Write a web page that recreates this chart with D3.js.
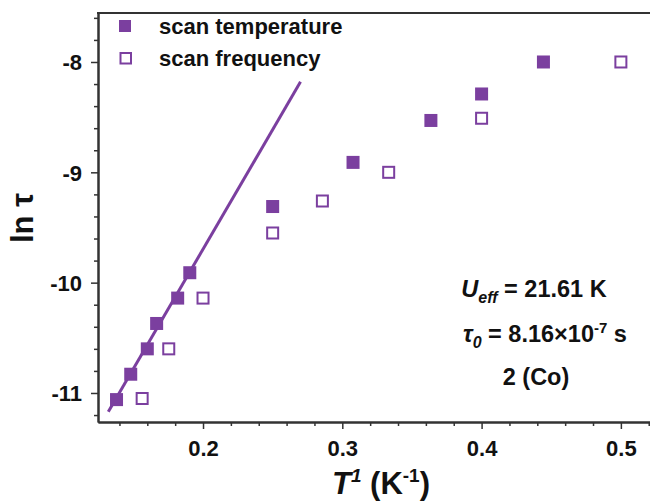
<!DOCTYPE html>
<html>
<head>
<meta charset="utf-8">
<script src="https://cdn.jsdelivr.net/npm/d3@7"></script>
<style>
  body { margin: 0; background: #fff; }
  text { font-family: "Liberation Sans", Arial, sans-serif; font-weight: bold; fill: #111; }
</style>
</head>
<body>
<div class="chart"></div>
<script>
var svgWidth = 650;
var svgHeight = 501;

// data (x = 1/T, y = ln tau)
var tempX = [0.1379, 0.1481, 0.1600, 0.1667, 0.1818, 0.1905, 0.2500, 0.3077, 0.3636, 0.4000, 0.4444];
var tempY = [-11.06, -10.83, -10.60, -10.37, -10.14, -9.91, -9.31, -8.91, -8.53, -8.29, -8.00];
var freqX = [0.1563, 0.1754, 0.2000, 0.2500, 0.2857, 0.3333, 0.4000, 0.5000];
var freqY = [-11.05, -10.60, -10.14, -9.55, -9.26, -9.00, -8.51, -8.00];
var fitX = [0.132, 0.270];
var fitY = [-11.17, -8.18];

var xMajor = [0.2, 0.3, 0.4, 0.5];
var yMajor = [-8, -9, -10, -11];
var seriesNames = ["scan temperature", "scan frequency"];

var purple = "#7b3f9f";
var axisColor = "#333";

var svg = d3.select(".chart")
  .append("svg")
  .attr("width", svgWidth)
  .attr("height", svgHeight);

// scales
var x = d3.scaleLinear().domain([0.1246, 0.5245]).range([98, 655]);
var y = d3.scaleLinear().domain([-11.263, -7.556]).range([422, 13]);

var xMinor = d3.range(0.14, 0.525, 0.02).filter(v => !xMajor.some(m => Math.abs(m - v) < 1e-6));
var yMinor = d3.range(-11.2, -7.5, 0.2).filter(v => !yMajor.some(m => Math.abs(m - v) < 1e-6));

// x axis
var xAxis = svg.append("g")
  .attr("transform", "translate(0,422)")
  .call(d3.axisBottom(x).tickValues(xMajor).tickFormat(d => d.toFixed(1)).tickSize(7).tickSizeOuter(0));
svg.append("g")
  .attr("transform", "translate(0,422)")
  .call(d3.axisBottom(x).tickValues(xMinor).tickFormat("").tickSize(4).tickSizeOuter(0));

// y axis
var yAxis = svg.append("g")
  .attr("transform", "translate(98,0)")
  .call(d3.axisLeft(y).tickValues(yMajor).tickFormat(d => String(d)).tickSize(7).tickSizeOuter(0));
svg.append("g")
  .attr("transform", "translate(98,0)")
  .call(d3.axisLeft(y).tickValues(yMinor).tickFormat("").tickSize(4).tickSizeOuter(0));

svg.selectAll(".domain").attr("stroke", axisColor).attr("stroke-width", 2);
svg.selectAll(".tick line").attr("stroke", axisColor).attr("stroke-width", 1.5);
svg.selectAll(".tick text")
  .style("font-size", "22px")
  .style("font-weight", "bold")
  .attr("fill", "#111");
xAxis.selectAll(".tick text").attr("y", 18);
yAxis.selectAll(".tick text").attr("x", -16).attr("dy", "0.35em");

// top frame line
svg.append("line")
  .attr("x1", 97).attr("x2", 660)
  .attr("y1", y(-7.556)).attr("y2", y(-7.556))
  .attr("stroke", axisColor).attr("stroke-width", 2);

// Arrhenius fit
svg.append("line")
  .attr("x1", x(fitX[0])).attr("y1", y(fitY[0]))
  .attr("x2", x(fitX[1])).attr("y2", y(fitY[1]))
  .attr("stroke", purple).attr("stroke-width", 3);

// scan temperature (filled squares)
var sq = 13;
svg.append("g").selectAll("rect")
  .data(d3.zip(tempX, tempY))
  .enter()
  .append("rect")
  .attr("x", d => x(d[0]) - sq / 2)
  .attr("y", d => y(d[1]) - sq / 2)
  .attr("width", sq)
  .attr("height", sq)
  .attr("fill", purple);

// scan frequency (open squares)
svg.append("g").selectAll("rect")
  .data(d3.zip(freqX, freqY))
  .enter()
  .append("rect")
  .attr("x", d => x(d[0]) - (sq - 2) / 2)
  .attr("y", d => y(d[1]) - (sq - 2) / 2)
  .attr("width", sq - 2)
  .attr("height", sq - 2)
  .attr("fill", "#fff")
  .attr("stroke", purple)
  .attr("stroke-width", 2);

// legend
var legend = svg.append("g");
legend.append("rect")
  .attr("x", 119).attr("y", 20).attr("width", 12).attr("height", 12)
  .attr("fill", purple);
legend.append("rect")
  .attr("x", 120.5).attr("y", 53).attr("width", 10.5).attr("height", 10.5)
  .attr("fill", "#fff").attr("stroke", purple).attr("stroke-width", 2);
legend.selectAll("text")
  .data(seriesNames)
  .enter()
  .append("text")
  .attr("x", 159)
  .attr("y", (d, i) => 34 + i * 31.5)
  .style("font-size", "22px")
  .text(d => d);

// axis titles
svg.append("text")
  .attr("transform", "translate(33,218) rotate(-90)")
  .attr("text-anchor", "middle")
  .style("font-size", "31px")
  .text("ln τ");

var xTitle = svg.append("text")
  .attr("x", 381)
  .attr("y", 494)
  .attr("text-anchor", "middle")
  .style("font-size", "31px");
xTitle.append("tspan").style("font-style", "italic").text("T");
xTitle.append("tspan").style("font-style", "italic").style("font-size", "19px").attr("dy", -12).text("1");
xTitle.append("tspan").attr("dy", 12).text(" (K");
xTitle.append("tspan").style("font-size", "19px").attr("dy", -12).text("-1");
xTitle.append("tspan").attr("dy", 12).text(")");

// fit parameters
var t1 = svg.append("text").attr("x", 534).attr("y", 297).attr("text-anchor", "middle").style("font-size", "23.5px");
t1.append("tspan").style("font-style", "italic").text("U");
t1.append("tspan").style("font-style", "italic").style("font-size", "16px").attr("dy", 6).text("eff");
t1.append("tspan").attr("dy", -6).text(" = 21.61 K");

var t2 = svg.append("text").attr("x", 545).attr("y", 342).attr("text-anchor", "middle").style("font-size", "23.5px");
t2.append("tspan").style("font-style", "italic").text("τ");
t2.append("tspan").style("font-style", "italic").style("font-size", "16px").attr("dy", 6).text("0");
t2.append("tspan").attr("dy", -6).text(" = 8.16×10");
t2.append("tspan").style("font-size", "15px").attr("dy", -9).text("-7");
t2.append("tspan").attr("dy", 9).text(" s");

svg.append("text").attr("x", 536).attr("y", 385).attr("text-anchor", "middle")
  .style("font-size", "23.5px")
  .text("2 (Co)");
</script>
</body>
</html>
